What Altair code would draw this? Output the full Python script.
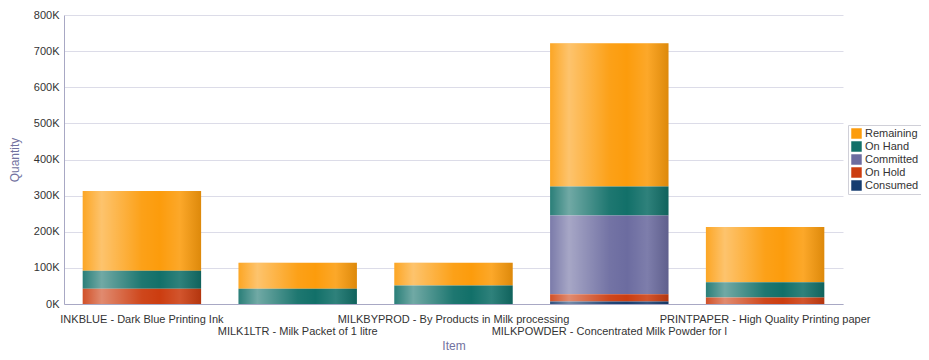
import altair as alt
import pandas as pd

items = [
    "INKBLUE - Dark Blue Printing Ink",
    "MILK1LTR - Milk Packet of 1 litre",
    "MILKBYPROD - By Products in Milk processing",
    "MILKPOWDER - Concentrated Milk Powder for l",
    "PRINTPAPER - High Quality Printing paper",
]
series = ["Remaining", "On Hand", "Committed", "On Hold", "Consumed"]
colors = ["#fc9c0c", "#127069", "#6c6ca0", "#cc3d10", "#163d70"]

remaining = [221000, 72000, 63000, 397000, 153000]
on_hand = [50000, 42000, 51000, 80000, 42000]
committed = [0, 0, 0, 218000, 0]
on_hold = [42000, 0, 0, 20000, 18000]
consumed = [0, 0, 0, 7000, 0]
y_ticks = [0, 100000, 200000, 300000, 400000, 500000, 600000, 700000, 800000]

values = [remaining, on_hand, committed, on_hold, consumed]
rows = []
for si, s in enumerate(series):
    for ii, it in enumerate(items):
        rows.append({"Item": it, "Series": s, "Quantity": values[si][ii],
                     "order": len(series) - si})
df = pd.DataFrame(rows)

FONT = "Liberation Sans"
odd_items = [items[i] for i in range(len(items)) if i % 2 == 1]
odd_js = "[" + ",".join("'" + x + "'" for x in odd_items) + "]"

xscale = alt.Scale(paddingInner=0.24, paddingOuter=0.12)
yscale = alt.Scale(domain=[0, 800000])

xaxis = alt.Axis(
    labelAngle=0, labelAlign="center", labelBaseline="top",
    labelPadding=9, labelLineHeight=12, labelLimit=0, labelOverlap=False,
    labelExpr="indexof(" + odd_js + ", datum.value) >= 0 ? ['', datum.label] : datum.label",
    labelFont=FONT, labelFontSize=11, labelColor="#333333",
    titleFont=FONT, titleFontSize=12, titleFontWeight="normal", titleColor="#7272a0",
    titlePadding=4, ticks=False, domainColor="#a8a8c4", grid=False,
)
yaxis = alt.Axis(
    values=y_ticks,
    labelExpr="format(datum.value/1000, 'd') + 'K'",
    labelFont=FONT, labelFontSize=11, labelColor="#333333", labelPadding=5,
    labelOverlap=False,
    titleFont=FONT, titleFontSize=12, titleFontWeight="normal", titleColor="#7272a0",
    titlePadding=12, ticks=False, domainColor="#a8a8c4",
    gridColor="#dcdce8", gridWidth=1,
)

xenc = alt.X("Item:N", sort=items, title="Item", scale=xscale, axis=xaxis)
yenc = alt.Y("sum(Quantity):Q", title="Quantity", scale=yscale, axis=yaxis)

bars = alt.Chart(df).mark_bar().encode(
    x=xenc,
    y=yenc,
    color=alt.Color(
        "Series:N",
        scale=alt.Scale(domain=series, range=colors),
        legend=alt.Legend(
            title=None, orient="none", legendX=784, legendY=110,
            symbolType="square", symbolSize=110, symbolStrokeWidth=0,
            labelFont=FONT, labelFontSize=11, labelColor="#333333",
            rowPadding=1, labelOffset=3, padding=3,
            strokeColor="#d0d0d8", fillColor="#ffffff",
        ),
    ),
    order=alt.Order("order:Q", sort="ascending"),
)

shine = alt.Chart(df).mark_bar(
    color=alt.Gradient(
        gradient="linear", x1=0, x2=1, y1=0, y2=0,
        stops=[
            alt.GradientStop(color="rgba(255,255,255,0.10)", offset=0),
            alt.GradientStop(color="rgba(255,255,255,0.40)", offset=0.16),
            alt.GradientStop(color="rgba(255,255,255,0.05)", offset=0.5),
            alt.GradientStop(color="rgba(255,255,255,0.0)", offset=0.65),
            alt.GradientStop(color="rgba(255,255,255,0.12)", offset=0.82),
            alt.GradientStop(color="rgba(0,0,0,0.12)", offset=1),
        ],
    )
).encode(x=xenc, y=yenc)

chart = alt.layer(bars, shine).properties(
    width=779, height=289,
    padding={"left": 56, "top": 7, "right": 78, "bottom": 48},
    autosize=alt.AutoSizeParams(type="none"),
).configure_view(stroke=None)

chart.save("out.html", embed_options={"renderer": "svg", "actions": False})
